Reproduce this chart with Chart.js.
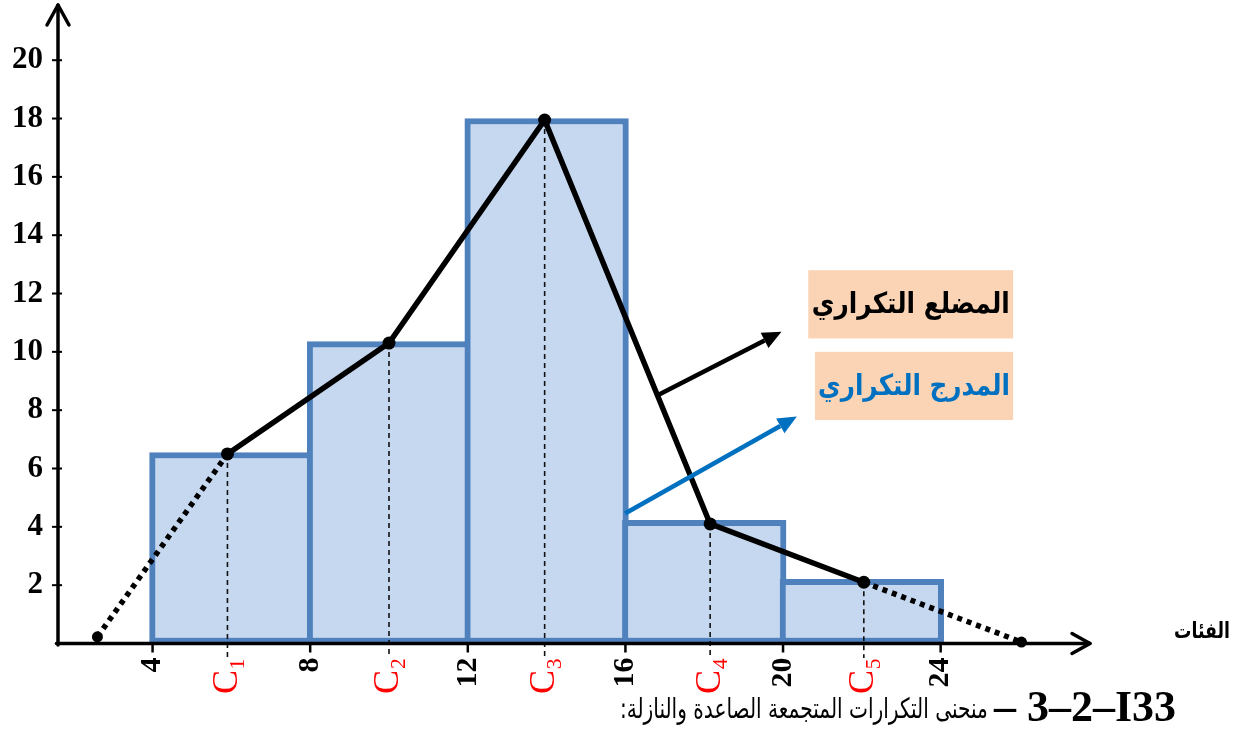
<!DOCTYPE html>
<html>
<head>
<meta charset="utf-8">
<script src="https://cdn.jsdelivr.net/npm/chart.js@4.4.1/dist/chart.umd.min.js"></script>
<style>
html,body{margin:0;padding:0;background:#fff;}
#wrap{width:1245px;height:733px;position:relative;}
</style>
</head>
<body>
<div id="wrap"><canvas id="c"></canvas></div>
<script>
// ---- data ----
const classEdges = [4, 8, 12, 16, 20, 24];
const classMids = [6, 10, 14, 18, 22];
const frequencies = [6.55, 10.35, 18, 4.22, 2.2];
const centerLabels = ['C\u2081', 'C\u2082', 'C\u2083', 'C\u2084', 'C\u2085'];
const polygonX = [5.9, 10, 13.95, 18.15, 22.05];
const polygonY = [6.5, 10.3, 17.95, 4.1, 2.1];
const polygonStart = [2.6, 0.23];
const polygonEnd = [26.05, 0.05];
const yTickValues = [2, 4, 6, 8, 10, 12, 14, 16, 18, 20];
const polygonLabel = 'المضلع التكراري';
const histogramLabel = 'المدرج التكراري';
const axisTitle = 'الفئات';
const captionArabic = 'منحنى التكرارات المتجمعة الصاعدة والنازلة:';
const captionNumber = '\u2013 3\u20132\u2013I33';

// annotation placement (data coordinates)
const annot = {
  arrows: [
    {from: [16.83, 8.52], to: [19.96, 10.69], color: '#000000'},
    {from: [15.99, 4.46], to: [20.35, 7.78], color: '#0070C0'}
  ],
  boxes: [
    {x0: 20.64, x1: 25.84, y0: 12.8, y1: 10.46, text: polygonLabel, color: '#000000', w: 198},
    {x0: 20.81, x1: 25.84, y0: 10.0, y1: 7.66, text: histogramLabel, color: '#0070C0', w: 192}
  ]
};

const SERIF = "'Liberation Serif','Times New Roman','DejaVu Serif',serif";
const ARABIC = "'DejaVu Sans','Noto Sans',sans-serif";
const BAR_BORDER = 6;

function isEdge(c) {
  return !c.tick || classEdges.includes(c.tick.value);
}
// draw text with fixed font size squeezed horizontally to a target width (right aligned)
function squeezeText(ctx, text, font, rightX, baseY, targetW) {
  ctx.save();
  ctx.font = font;
  ctx.direction = 'rtl';
  ctx.textAlign = 'right';
  const w = ctx.measureText(text).width;
  const sx = Math.min(1, targetW / w);
  ctx.translate(rightX, baseY);
  ctx.scale(sx, 1);
  ctx.fillText(text, 0, 0);
  ctx.restore();
}

const deco = {
  id: 'deco',
  afterDatasetsDraw(chart) {
    const {ctx} = chart;
    const xs = chart.scales.x, ys = chart.scales.y;
    const ax = xs.left, ay = ys.getPixelForValue(0);
    ctx.save();
    ctx.strokeStyle = '#000';
    ctx.fillStyle = '#000';
    ctx.lineWidth = 3.5;
    ctx.lineCap = 'round';
    ctx.lineJoin = 'round';
    // y axis + chevron
    ctx.beginPath(); ctx.moveTo(ax, ay + 1.5); ctx.lineTo(ax, ys.top - 3); ctx.stroke();
    ctx.beginPath(); ctx.moveTo(ax - 11, ys.top + 17); ctx.lineTo(ax, ys.top - 3); ctx.lineTo(ax + 11, ys.top + 17); ctx.stroke();
    // x axis + chevron
    ctx.beginPath(); ctx.moveTo(ax - 1.5, ay); ctx.lineTo(xs.right, ay); ctx.stroke();
    ctx.beginPath(); ctx.moveTo(xs.right - 18, ay - 10); ctx.lineTo(xs.right, ay); ctx.lineTo(xs.right - 18, ay + 10); ctx.stroke();
    // y tick marks
    ctx.lineWidth = 2; ctx.lineCap = 'butt';
    yTickValues.forEach(v => {
      const py = ys.getPixelForValue(v);
      ctx.beginPath(); ctx.moveTo(ax - 6, py); ctx.lineTo(ax + 4, py); ctx.stroke();
    });
    // x tick marks at class edges
    ctx.lineWidth = 2.5;
    classEdges.forEach(v => {
      const px = xs.getPixelForValue(v);
      ctx.beginPath(); ctx.moveTo(px, ay); ctx.lineTo(px, ay + 9); ctx.stroke();
    });
    // label boxes
    annot.boxes.forEach(b => {
      const l = xs.getPixelForValue(b.x0), r = xs.getPixelForValue(b.x1);
      const t = ys.getPixelForValue(b.y0), btm = ys.getPixelForValue(b.y1);
      ctx.fillStyle = '#FAD4B5';
      ctx.fillRect(l, t, r - l, btm - t);
      ctx.fillStyle = b.color;
      ctx.textBaseline = 'middle';
      squeezeText(ctx, b.text, 'bold 29px ' + ARABIC, (l + r) / 2 + b.w / 2, (t + btm) / 2 + 1, b.w);
    });
    // arrows
    annot.arrows.forEach(a => {
      const x1 = xs.getPixelForValue(a.from[0]), y1 = ys.getPixelForValue(a.from[1]);
      const x2 = xs.getPixelForValue(a.to[0]), y2 = ys.getPixelForValue(a.to[1]);
      const ang = Math.atan2(y2 - y1, x2 - x1);
      const hl = 19, hw = 8.5;
      const bx = x2 - hl * Math.cos(ang), by = y2 - hl * Math.sin(ang);
      ctx.strokeStyle = a.color; ctx.fillStyle = a.color;
      ctx.lineWidth = 4.5; ctx.lineCap = 'butt';
      ctx.beginPath(); ctx.moveTo(x1, y1); ctx.lineTo(bx, by); ctx.stroke();
      ctx.beginPath();
      ctx.moveTo(x2, y2);
      ctx.lineTo(bx + hw * Math.sin(ang), by - hw * Math.cos(ang));
      ctx.lineTo(bx - hw * Math.sin(ang), by + hw * Math.cos(ang));
      ctx.closePath(); ctx.fill();
    });
    // axis title
    ctx.fillStyle = '#000';
    ctx.textBaseline = 'alphabetic';
    squeezeText(ctx, axisTitle, 'bold 22px ' + ARABIC, xs.right + 140, ay - 6, 56);
    // caption
    ctx.direction = 'ltr';
    ctx.textAlign = 'right';
    ctx.font = 'bold 44px ' + SERIF;
    const capRight = chart.width - 69;
    ctx.fillText(captionNumber, capRight, chart.height - 12);
    const nw = ctx.measureText(captionNumber).width;
    squeezeText(ctx, captionArabic, 'normal 28px ' + ARABIC, capRight - nw - 6, chart.height - 15, 368);
    ctx.restore();
  }
};

const barData = classMids.map((x, i) => ({x: x, y: frequencies[i]}));
const polyData = polygonX.map((x, i) => ({x: x, y: polygonY[i]}));
const dropLines = polygonX.map((x, i) => ({
  type: 'line',
  data: [{x: x, y: polygonY[i]}, {x: x, y: -0.5}],
  borderColor: '#111',
  borderWidth: 1.6,
  borderDash: [5, 4],
  pointRadius: 0,
  clip: false,
  order: 5
}));

new Chart(document.getElementById('c'), {
  type: 'bar',
  data: {
    datasets: [
      {
        type: 'line',
        data: polyData,
        borderColor: '#000',
        borderWidth: 5.5,
        pointRadius: 6.5,
        pointBackgroundColor: '#000',
        pointBorderWidth: 0,
        tension: 0,
        clip: false,
        order: 0
      },
      {
        type: 'line',
        data: [{x: polygonStart[0], y: polygonStart[1]}, polyData[0]],
        borderColor: '#000',
        borderWidth: 5.5,
        borderDash: [5, 5],
        pointRadius: [5.5, 0],
        pointBackgroundColor: '#000',
        pointBorderWidth: 0,
        clip: false,
        order: 1
      },
      {
        type: 'line',
        data: [polyData[polyData.length - 1], {x: polygonEnd[0], y: polygonEnd[1]}],
        borderColor: '#000',
        borderWidth: 5.5,
        borderDash: [5, 5],
        pointRadius: [0, 5.5],
        pointBackgroundColor: '#000',
        pointBorderWidth: 0,
        clip: false,
        order: 1
      },
      ...dropLines,
      {
        type: 'bar',
        data: barData,
        backgroundColor: '#C6D8EF',
        borderColor: '#4F81BD',
        borderWidth: BAR_BORDER,
        borderSkipped: false,
        // class width in pixels from the x scale, plus one border so neighbours share it
        barThickness: (c) => {
          const s = c.chart.scales.x;
          if (!s) return undefined;
          return Math.abs(s.getPixelForValue(classEdges[1]) - s.getPixelForValue(classEdges[0])) + BAR_BORDER;
        },
        order: 10
      }
    ]
  },
  options: {
    responsive: true,
    maintainAspectRatio: false,
    animation: false,
    events: [],
    layout: {padding: {top: 8, right: 155, left: 0, bottom: 0}},
    plugins: {legend: {display: false}, tooltip: {enabled: false}, title: {display: false}},
    scales: {
      x: {
        type: 'linear',
        min: 1.6,
        max: 27.79,
        offset: false,
        grid: {display: false, drawTicks: false, offset: false},
        border: {display: false},
        afterBuildTicks: (s) => {
          const vals = classEdges.concat(polygonX).sort((a, b) => a - b);
          s.ticks = vals.map(v => ({value: v}));
        },
        afterFit: (s) => { s.height = 89.5; s.paddingLeft = 0; s.paddingRight = 0; },
        ticks: {
          autoSkip: false,
          minRotation: 90,
          maxRotation: 90,
          padding: 14,
          color: (c) => isEdge(c) ? '#000' : '#FF0000',
          font: (c) => isEdge(c)
            ? {family: SERIF, size: 30, weight: 'bold'}
            : {family: SERIF, size: 36, weight: 'normal'},
          callback: (v) => {
            if (classEdges.includes(v)) return String(v);
            const i = polygonX.indexOf(v);
            return i >= 0 ? centerLabels[i] : '';
          }
        }
      },
      y: {
        type: 'linear',
        min: 0,
        max: 21.79,
        grid: {display: false, drawTicks: false},
        border: {display: false},
        afterBuildTicks: (s) => { s.ticks = yTickValues.map(v => ({value: v})); },
        afterFit: (s) => { s.width = 58; s.paddingTop = 0; s.paddingBottom = 0; },
        ticks: {
          padding: 15,
          color: '#000',
          font: {family: SERIF, size: 31, weight: 'bold'}
        }
      }
    }
  },
  plugins: [deco]
});
</script>
</body>
</html>
